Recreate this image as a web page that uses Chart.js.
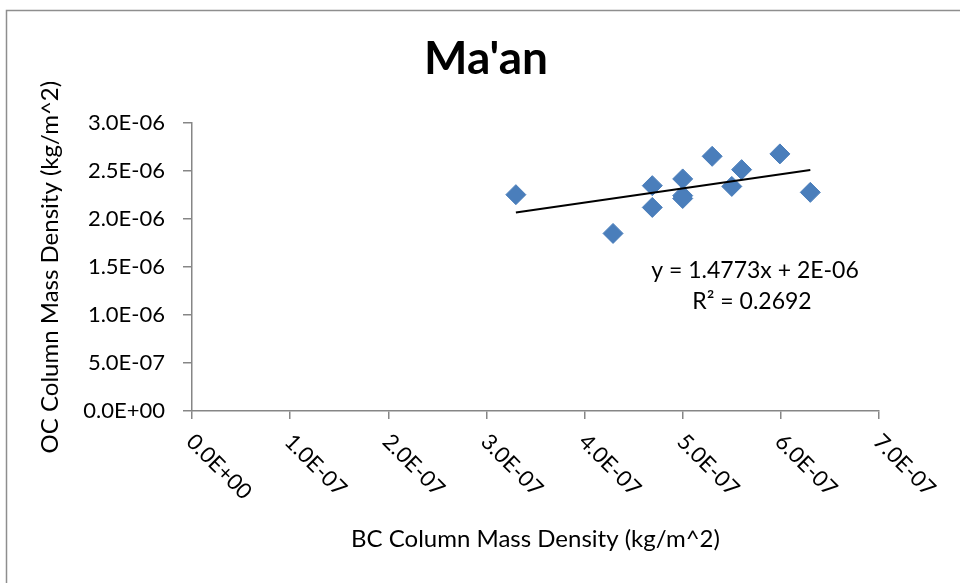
<!DOCTYPE html>
<html>
<head>
<meta charset="utf-8">
<title>Ma'an</title>
<script src="https://cdn.jsdelivr.net/npm/chart.js@4/dist/chart.umd.min.js"></script>
<style>
    html, body { margin: 0; padding: 0; background: #fff; }
    #wrap { width: 960px; height: 583px; position: relative; }
</style>
</head>
<body>
<div id="wrap"><canvas id="maan"></canvas></div>
<script>
// values
var bcValues = [3.30e-7, 4.29e-7, 4.69e-7, 4.69e-7, 5.00e-7, 5.00e-7, 5.00e-7, 5.30e-7, 5.50e-7, 5.60e-7, 5.99e-7, 6.30e-7];
var ocValues = [2.255e-6, 1.851e-6, 2.349e-6, 2.122e-6, 2.419e-6, 2.245e-6, 2.215e-6, 2.655e-6, 2.341e-6, 2.516e-6, 2.680e-6, 2.279e-6];
var trendX = [3.3e-7, 6.3e-7];
var trendY = [2.068e-6, 2.511e-6];
var xTickLabels = ['0.0E+00', '1.0E-07', '2.0E-07', '3.0E-07', '4.0E-07', '5.0E-07', '6.0E-07', '7.0E-07'];
var yTickLabels = ['0.0E+00', '5.0E-07', '1.0E-06', '1.5E-06', '2.0E-06', '2.5E-06', '3.0E-06'];
var equationLines = ['y = 1.4773x + 2E-06', 'R\u00b2 = 0.2692'];

var fontFamily = "Lato, 'Open Sans', sans-serif";
var axisGrey = '#868686';

var points = [];
for (var i = 0; i < bcValues.length; i++) {
    points.push({ x: bcValues[i], y: ocValues[i] });
}
var trend = [];
for (var j = 0; j < trendX.length; j++) {
    trend.push({ x: trendX[j], y: trendY[j] });
}

var extrasPlugin = {
    id: 'extras',
    beforeDraw: function(chart) {
        var ctx = chart.ctx;
        ctx.save();
        ctx.fillStyle = '#fff';
        ctx.fillRect(0, 0, chart.width, chart.height);
        // outer chart frame
        ctx.strokeStyle = '#8e8e8e';
        ctx.lineWidth = 1.5;
        ctx.strokeRect(6.5, 10.5, 1000, 1000);
        ctx.restore();
    },
    afterDraw: function(chart) {
        var ctx = chart.ctx;
        var xs = chart.scales.x;
        ctx.save();
        ctx.fillStyle = '#000';
        ctx.font = '22px ' + fontFamily;
        // rotated x tick labels, running down to the right
        for (var k = 0; k < xTickLabels.length; k++) {
            var px = xs.getPixelForValue(k * 1e-7);
            ctx.save();
            ctx.translate(px - 2, xs.top + 27);
            ctx.rotate(Math.PI / 4);
            ctx.textAlign = 'left';
            ctx.textBaseline = 'middle';
            ctx.fillText(xTickLabels[k], 0, 0);
            ctx.restore();
        }
        // trendline equation
        var area = chart.chartArea;
        ctx.font = '23px ' + fontFamily;
        ctx.textAlign = 'center';
        ctx.textBaseline = 'middle';
        ctx.fillText(equationLines[0], area.right - 124, 271);
        ctx.fillText(equationLines[1], area.right - 127, 302);
        ctx.restore();
    }
};

new Chart(document.getElementById('maan'), {
    type: 'scatter',
    data: {
        datasets: [{
            type: 'line',
            data: trend,
            borderColor: '#000',
            borderWidth: 2,
            pointRadius: 0,
            fill: false,
            order: 0
        }, {
            data: points,
            pointStyle: 'rectRot',
            pointRadius: 10,
            backgroundColor: '#4A7EBB',
            borderColor: '#4A7EBB',
            borderWidth: 1,
            order: 1
        }]
    },
    options: {
        responsive: true,
        maintainAspectRatio: false,
        animation: false,
        layout: { padding: { left: 12, right: 0, top: 0, bottom: 0 } },
        plugins: {
            legend: { display: false },
            tooltip: { enabled: false },
            title: {
                display: true,
                text: "Ma'an",
                color: '#000',
                font: { family: fontFamily, size: 46, weight: 'bold' },
                padding: { top: 32, bottom: 36 }
            }
        },
        scales: {
            x: {
                type: 'linear',
                min: 0,
                max: 7e-7,
                ticks: { display: false, stepSize: 1e-7 },
                grid: { drawOnChartArea: false, drawTicks: true, tickLength: 8, color: axisGrey, lineWidth: 1.5 },
                border: { display: true, color: axisGrey, width: 1.5 },
                title: {
                    display: true,
                    text: 'BC Column Mass Density (kg/m^2)',
                    color: '#000',
                    font: { family: fontFamily, size: 24 },
                    padding: { top: 0, bottom: 29 }
                },
                afterFit: function(scale) { scale.height = 172; }
            },
            y: {
                type: 'linear',
                min: 0,
                max: 3e-6,
                ticks: {
                    stepSize: 5e-7,
                    color: '#000',
                    padding: 18,
                    font: { family: fontFamily, size: 22 },
                    callback: function(value, index) { return yTickLabels[index]; }
                },
                grid: { drawOnChartArea: false, drawTicks: true, tickLength: 9, color: axisGrey, lineWidth: 1.5 },
                border: { display: true, color: axisGrey, width: 1.5 },
                title: {
                    display: true,
                    text: 'OC Column Mass Density (kg/m^2)',
                    color: '#000',
                    font: { family: fontFamily, size: 24 },
                    padding: { top: 24, bottom: 0 }
                },
                afterFit: function(scale) { scale.width = 180; }
            },
            // empty right-hand space so the title centres on the whole frame
            spacer: {
                type: 'linear',
                position: 'right',
                display: true,
                ticks: { display: false },
                grid: { display: false },
                border: { display: false },
                afterFit: function(scale) { scale.width = 81; }
            }
        }
    },
    plugins: [extrasPlugin]
});
</script>
</body>
</html>
